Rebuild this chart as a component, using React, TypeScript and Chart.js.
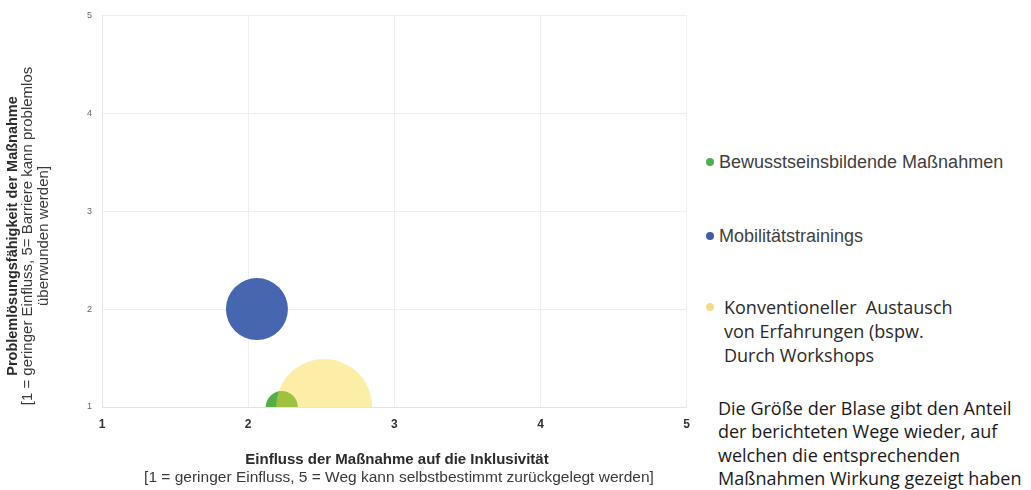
import React, { useEffect, useRef } from "react";
import { Chart, registerables } from "chart.js";

Chart.register(...registerables);

// ---- data ----
const seriesNames = [
  "Bewusstseinsbildende Maßnahmen",
  "Mobilitätstrainings",
  "Konventioneller Austausch von Erfahrungen (bspw. Durch Workshops",
];
const xValues = [2.23, 2.06, 2.52]; // Einfluss auf die Inklusivität
const yValues = [1.0, 2.0, 1.0]; // Problemlösungsfähigkeit
const bubbleRadius = [16, 31, 48]; // Anteil der berichteten Wege (Blasengröße)
const seriesColors = ["rgba(84,176,70,1)", "rgba(70,102,176,1)", "rgba(248,215,60,0.45)"];
const legendDotColors = ["#4caf50", "#3f5dab", "#f7d98a"];
const drawOrder = [1, 2, 0];
const tickValues = [1, 2, 3, 4, 5];

const xTitle = "Einfluss der Maßnahme auf die Inklusivität";
const xSubtitle = "[1 = geringer Einfluss, 5 = Weg kann selbstbestimmt zurückgelegt werden]";
const yTitle = "Problemlösungsfähigkeit der Maßnahme";
const ySubtitle = ["[1 = geringer Einfluss, 5= Barriere kann problemlos", "überwunden werden]"];

const legendLines3 = ["Konventioneller  Austausch", "von Erfahrungen (bspw.", "Durch Workshops"];
const noteLines = [
  "Die Größe der Blase gibt den Anteil",
  "der berichteten Wege wieder, auf",
  "welchen die entsprechenden",
  "Maßnahmen Wirkung gezeigt haben",
];

const FONT = "'Liberation Sans', Arial, sans-serif";

const titlePlugin = {
  id: "axisTitles",
  afterDraw(chart: any) {
    const ctx = chart.ctx;
    ctx.save();
    ctx.textAlign = "center";
    ctx.textBaseline = "middle";
    // x titles
    ctx.fillStyle = "#2b2b2b";
    ctx.font = `bold 15px ${FONT}`;
    ctx.fillText(xTitle, 397, 460);
    ctx.fillStyle = "#3a3a3a";
    ctx.font = `15.5px ${FONT}`;
    ctx.fillText(xSubtitle, 399, 478);
    // y titles
    ctx.translate(0, 236);
    ctx.rotate(-Math.PI / 2);
    ctx.fillStyle = "#2b2b2b";
    ctx.font = `bold 14.5px ${FONT}`;
    ctx.fillText(yTitle, 0, 13);
    ctx.fillStyle = "#3a3a3a";
    ctx.font = `15px ${FONT}`;
    ctx.fillText(ySubtitle[0], 0, 28);
    ctx.fillText(ySubtitle[1], 0, 44);
    ctx.restore();
  },
};

export default function App() {
  const canvasRef = useRef<HTMLCanvasElement | null>(null);

  useEffect(() => {
    if (!canvasRef.current) return;
    const datasets = seriesNames.map((name, i) => ({
      label: name,
      data: [{ x: xValues[i], y: yValues[i], r: bubbleRadius[i] }],
      backgroundColor: seriesColors[i],
      borderWidth: 0,
      hoverBorderWidth: 0,
      clip: 0,
      order: drawOrder[i],
    }));
    const chart = new Chart(canvasRef.current, {
      type: "bubble",
      data: { datasets },
      options: {
        animation: false,
        responsive: false,
        devicePixelRatio: 1,
        layout: { autoPadding: false, padding: { left: 60, top: 14, right: 13, bottom: 0 } },
        plugins: { legend: { display: false }, tooltip: { enabled: false } },
        scales: {
          x: {
            type: "linear",
            min: 1,
            max: 5,
            afterBuildTicks: (s: any) => {
              s.ticks = tickValues.map((v) => ({ value: v }));
            },
            afterFit: (s: any) => {
              s.height = 83;
            },
            grid: { color: "#eeeeee", drawTicks: false },
            border: { color: "#e4e4e4" },
            ticks: {
              padding: 10,
              color: "#333333",
              font: { family: FONT, size: 12, weight: "bold" },
            },
          },
          y: {
            type: "linear",
            min: 1,
            max: 5,
            afterBuildTicks: (s: any) => {
              s.ticks = tickValues.map((v) => ({ value: v }));
            },
            afterFit: (s: any) => {
              s.width = 42;
            },
            grid: { color: "#eeeeee", drawTicks: false },
            border: { color: "#e4e4e4" },
            ticks: {
              padding: 10,
              color: "#666666",
              font: { family: FONT, size: 9 },
            },
          },
        },
      },
      plugins: [titlePlugin],
    } as any);
    return () => chart.destroy();
  }, []);

  const dot = (color: string, left: number, top: number) => (
    <div
      style={{
        position: "absolute",
        left: left - 4,
        top: top - 4,
        width: 8,
        height: 8,
        borderRadius: 4,
        background: color,
      }}
    />
  );

  const calibri = "'Open Sans', 'Noto Sans', sans-serif";

  return (
    <div
      style={{
        position: "absolute",
        left: 0,
        top: 0,
        width: 1031,
        height: 490,
        overflow: "hidden",
        background: "#ffffff",
      }}
    >
      <canvas ref={canvasRef} width={700} height={490} style={{ position: "absolute", left: 0, top: 0 }} />
      {dot(legendDotColors[0], 710, 162)}
      <div
        style={{
          position: "absolute",
          left: 719,
          top: 150,
          font: `18px ${FONT}`,
          lineHeight: "24px",
          color: "#404040",
          whiteSpace: "pre",
        }}
      >
        {seriesNames[0]}
      </div>
      {dot(legendDotColors[1], 710, 236)}
      <div
        style={{
          position: "absolute",
          left: 719,
          top: 224,
          font: `18px ${FONT}`,
          lineHeight: "24px",
          color: "#404040",
          whiteSpace: "pre",
        }}
      >
        {seriesNames[1]}
      </div>
      {dot(legendDotColors[2], 710, 307)}
      <div
        style={{
          position: "absolute",
          left: 724,
          top: 295,
          fontFamily: calibri,
          fontSize: 18,
          lineHeight: "24px",
          color: "#2a2a2a",
          whiteSpace: "pre",
        }}
      >
        {legendLines3.map((l, i) => (
          <div key={i}>{l}</div>
        ))}
      </div>
      <div
        style={{
          position: "absolute",
          left: 718,
          top: 397,
          fontFamily: calibri,
          fontSize: 18,
          lineHeight: "23.3px",
          color: "#1a1a1a",
          whiteSpace: "pre",
        }}
      >
        {noteLines.map((l, i) => (
          <div key={i}>{l}</div>
        ))}
      </div>
    </div>
  );
}
